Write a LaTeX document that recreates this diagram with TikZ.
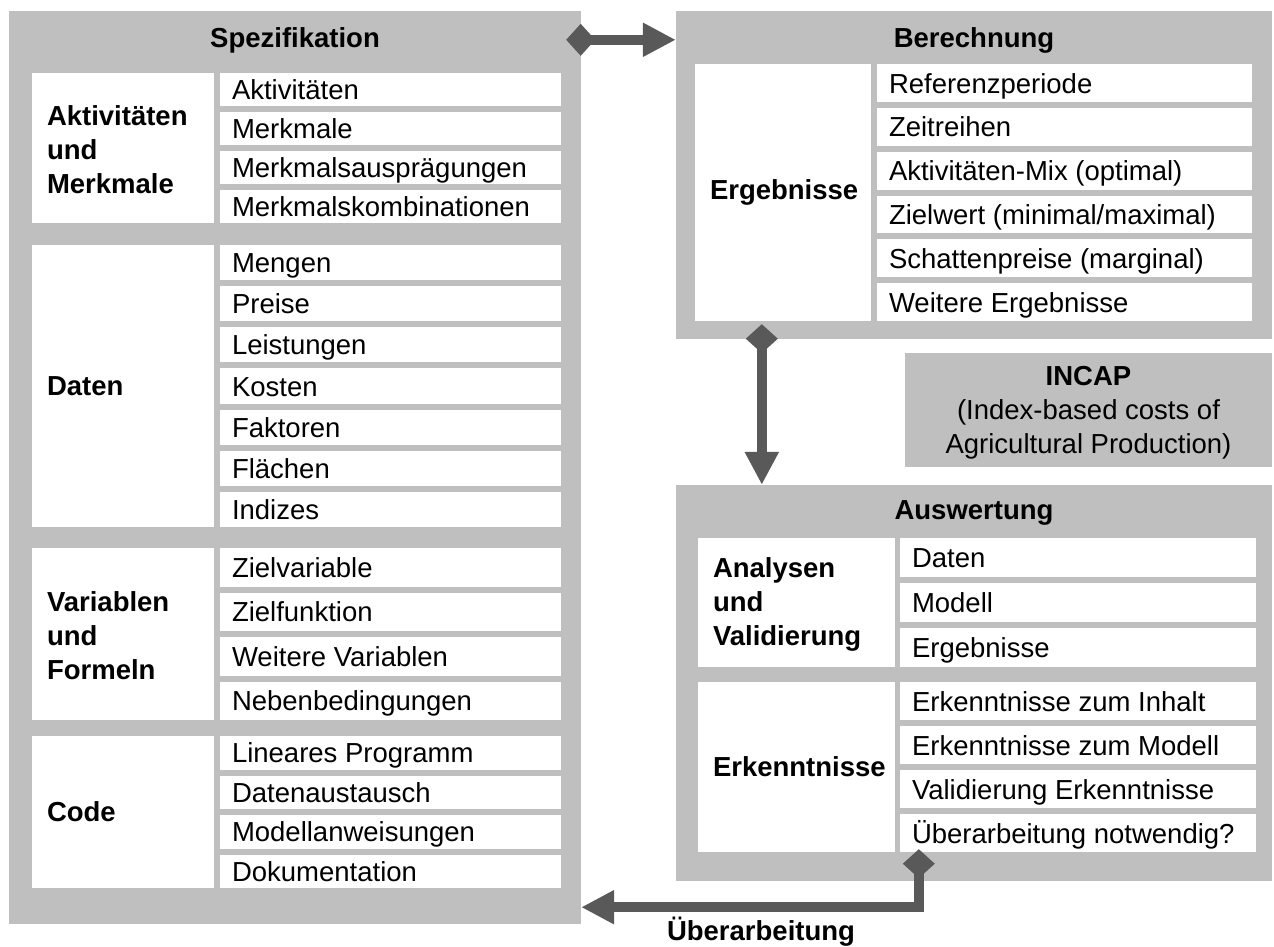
\documentclass[tikz,border=0pt]{standalone}
\usepackage{fontspec}
\setmainfont{Liberation Sans}
\usetikzlibrary{arrows.meta,fit,calc}
\definecolor{panelgray}{HTML}{BFBFBF}
\definecolor{arrowgray}{HTML}{595959}
\newcommand\mklist[7]{%
  \foreach \t [count=\i] in {#7} {%
    \pgfmathsetmacro\hh{((#5)-(#4)-((#6)-1)*6)/(#6)}%
    \pgfmathsetmacro\ya{(#4)+(\i-1)*(\hh+6)}%
    \pgfmathsetmacro\yb{\ya+\hh}%
    \node[cell, fit={(#2,\ya) (#3,\yb)}] (#1\i) {};%
    \node[itemtext] (#1t\i) at ([xshift=12pt,yshift=-3pt]#1\i.west) {\t};%
  }%
}
\begin{document}
\begin{tikzpicture}[x=1pt,y=-1pt,
  panel/.style={fill=panelgray, draw=none, inner sep=0pt},
  cell/.style={fill=white, draw=none, inner sep=0pt},
  itemtext/.style={anchor=west, inner sep=0pt, text height=19.7pt, text depth=5.5pt,
    font=\fontsize{27.5}{33}\selectfont},
  labeltext/.style={anchor=west, inner sep=0pt, align=left,
    font=\fontsize{27.5}{34}\selectfont\bfseries},
  titletext/.style={inner sep=0pt, font=\fontsize{27.5}{33}\selectfont\bfseries},
  conn/.style={draw=arrowgray, line width=10pt, line join=miter},
  dtip/.style={{Diamond[length=29pt,width=32pt]}-{Triangle[length=33pt,width=32pt]}}
]
\useasboundingbox (0,0) rectangle (1274,947);

% ---------- panels ----------
\node[panel, fit={(9,11) (581,924)}] (spec) {};
\node[panel, fit={(676,11) (1272,339)}] (bere) {};
\node[panel, fit={(905,353) (1272,467)}] (incap) {};
\node[panel, fit={(676,485) (1272,881)}] (ausw) {};

% ---------- titles ----------
\node[titletext] (spect) at ($(spec.north)+(0,30)$) {Spezifikation};
\node[titletext] (beret) at ($(bere.north)+(0,30)$) {Berechnung};
\node[titletext] (auswt) at ($(ausw.north)+(0,28)$) {Auswertung};
\node[inner sep=0pt, align=center, font=\fontsize{27.5}{34}\selectfont] (incapt) at ($(incap.center)+(0,3)$)
  {\textbf{INCAP}\\(Index-based costs of\\Agricultural Production)};

% ---------- Spezifikation ----------
\node[cell, fit={(32,73) (214,223)}] (am) {};
\node[labeltext] (amt) at ([xshift=15pt,yshift=-2pt]am.west) {Aktivitäten\\und\\Merkmale};
\mklist{ami}{220}{561}{73}{223}{4}{Aktivitäten,Merkmale,Merkmalsausprägungen,Merkmalskombinationen}

\node[cell, fit={(32,245) (214,527)}] (da) {};
\node[labeltext] (dat) at ([xshift=15pt]da.west) {Daten};
\mklist{dai}{220}{561}{245}{527}{7}{Mengen,Preise,Leistungen,Kosten,Faktoren,Flächen,Indizes}

\node[cell, fit={(32,548) (214,720)}] (vf) {};
\node[labeltext] (vft) at ([xshift=15pt,yshift=-2pt]vf.west) {Variablen\\und\\Formeln};
\mklist{vfi}{220}{561}{548}{720}{4}{Zielvariable,Zielfunktion,Weitere Variablen,Nebenbedingungen}

\node[cell, fit={(32,736) (214,888)}] (co) {};
\node[labeltext] (cot) at ([xshift=15pt]co.west) {Code};
\mklist{coi}{220}{561}{736}{888}{4}{Lineares Programm,Datenaustausch,Modellanweisungen,Dokumentation}

% ---------- Berechnung ----------
\node[cell, fit={(695,64) (871,321)}] (er) {};
\node[labeltext] (ert) at ([xshift=15pt]er.west) {Ergebnisse};
\mklist{eri}{877}{1252}{64}{321}{6}{Referenzperiode,Zeitreihen,Aktivitäten-Mix (optimal),Zielwert (minimal/maximal),Schattenpreise (marginal),Weitere Ergebnisse}

% ---------- Auswertung ----------
\node[cell, fit={(698,538) (895,667)}] (av) {};
\node[labeltext] (avt) at ([xshift=15pt,yshift=-2pt]av.west) {Analysen\\und\\Validierung};
\mklist{avi}{900}{1256}{538}{667}{3}{Daten,Modell,Ergebnisse}

\node[cell, fit={(698,682) (895,852)}] (ek) {};
\node[labeltext] (ekt) at ([xshift=15pt]ek.west) {Erkenntnisse};
\mklist{eki}{900}{1256}{682}{852}{4}{Erkenntnisse zum Inhalt,Erkenntnisse zum Modell,Validierung Erkenntnisse,Überarbeitung notwendig?}

% ---------- connectors ----------
\coordinate (c1) at ($(spec.north east)+(-15,29)$);
\draw[conn, dtip] (c1) -- (c1 -| bere.west);

\coordinate (c2) at ($(bere.south west)+(86,-15)$);
\draw[conn, dtip] (c2) -- (c2 |- ausw.north);

\coordinate (c3) at ($(ausw.south west)+(243,-32)$);
\coordinate (c4) at ($(c3)+(0,58)$);
\draw[conn, dtip] (c3) -- (c4) -- (c4 -| spec.east);

\node[titletext, anchor=base] (uebt) at (761,940) {Überarbeitung};
\end{tikzpicture}
\end{document}
